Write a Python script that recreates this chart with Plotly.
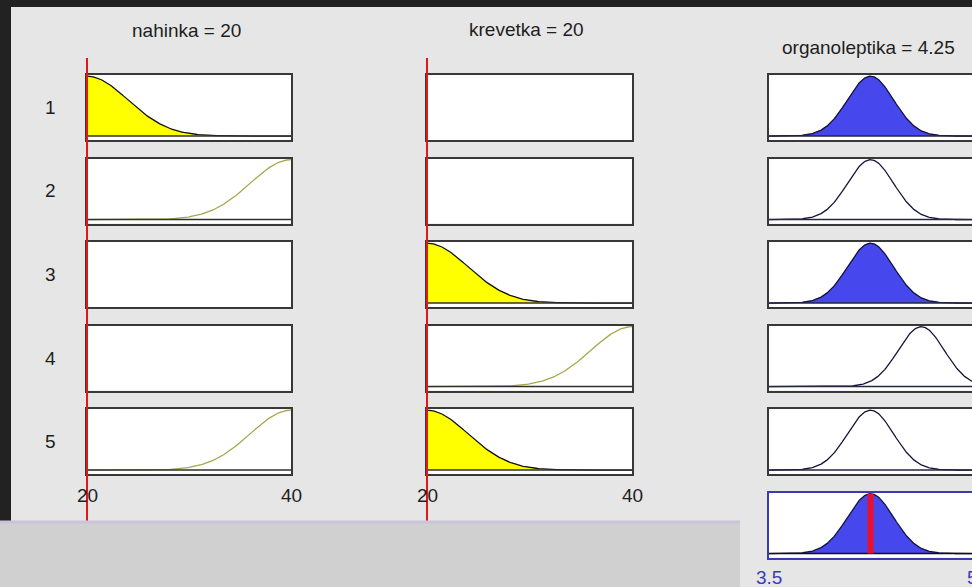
import numpy as np
import plotly.graph_objects as go

W, H = 972, 587

# ---- fuzzy system shown in the rule viewer ----
input_names = ["nahinka", "krevetka"]
input_values = [20, 20]
input_range = [20, 40]
input_mf_centers = [20, 40]      # gaussmf centres of MF1 / MF2 (both inputs)
input_mf_sigma = 4.0
input_ticks = [20, 40]

output_name = "organoleptika"
output_value = 4.25
output_range = [3.5, 5.0]
output_mf_centers = [4.25, 4.625]
output_mf_sigma = 0.17
output_ticks = [3.5, 5]

rule_labels = ["1", "2", "3", "4", "5"]
rule_nahinka = [1, 2, 0, 0, 2]   # 0 = input not used by the rule
rule_krevetka = [0, 0, 1, 2, 1]
rule_output = [1, 1, 1, 2, 1]

# ---- layout geometry (pixels) ----
col_left = [87, 427, 769]
col_right = [291, 632, 973]
row_top = [75, 158.5, 242, 325.5, 409, 492.5]
box_h = 65
y_lo, y_hi = -0.066, 1.02

FONT = "Liberation Sans, Arial, sans-serif"
TXT = "#1e1e1e"
BOX = "#383838"
YELLOW = "#ffff00"
OLIVE = "#a6a64c"
BLUE = "#4747ee"
NAVY = "#14143a"
RED = "#e01818"


def px(x):
    return x / W


def py(y):
    return 1 - y / H


def gauss(x, c, s):
    return np.exp(-((x - c) ** 2) / (2 * s * s))


fig = go.Figure()
layout_axes = {}
shapes = []
n_axes = 0


def axis_ids(k):
    return ("x" if k == 1 else f"x{k}"), ("y" if k == 1 else f"y{k}")


def add_axes(col, row, line_color=BOX, right_edge=True):
    global n_axes
    n_axes += 1
    k = n_axes
    xa, ya = axis_ids(k)
    xr = output_range if col == 2 else input_range
    common = dict(showgrid=False, zeroline=False, showticklabels=False,
                  ticks="", showline=True, linecolor=line_color, linewidth=2,
                  fixedrange=True)
    layout_axes["xaxis" if k == 1 else f"xaxis{k}"] = dict(
        domain=[px(col_left[col]), min(px(col_right[col]), 1.0)],
        range=xr, anchor=ya, mirror=True, **common)
    layout_axes["yaxis" if k == 1 else f"yaxis{k}"] = dict(
        domain=[py(row_top[row] + box_h), py(row_top[row])],
        range=[y_lo, y_hi], anchor=xa, mirror=right_edge, **common)
    # white face of the rule box
    shapes.append(dict(type="rect", xref=f"{xa} domain", yref=f"{ya} domain",
                       x0=0, x1=1, y0=0, y1=1, fillcolor="#ffffff",
                       line_width=0, layer="below"))
    # empty trace so that every rule box is drawn, even when unused
    fig.add_trace(go.Scatter(x=[], y=[], xaxis=xa, yaxis=ya, mode="lines"))
    return xa, ya


xs_in = np.linspace(input_range[0], input_range[1], 201)
xs_out = np.linspace(output_range[0], output_range[1], 301)

# ---- input columns ----
input_rules = [rule_nahinka, rule_krevetka]
firing = [1.0] * len(rule_labels)
input_axes = []
for j in range(2):
    ids = []
    for i in range(len(rule_labels)):
        xa, ya = add_axes(j, i)
        ids.append(xa)
        mf = input_rules[j][i]
        if mf:
            c = input_mf_centers[mf - 1]
            y = gauss(xs_in, c, input_mf_sigma)
            deg = float(gauss(input_values[j], c, input_mf_sigma))
            firing[i] = min(firing[i], deg)
            if deg > 1e-3:
                fig.add_trace(go.Scatter(x=xs_in, y=y, xaxis=xa, yaxis=ya,
                                         mode="lines", fill="tozeroy",
                                         fillcolor=YELLOW,
                                         line=dict(color="#111111", width=1.3)))
            else:
                fig.add_trace(go.Scatter(x=xs_in, y=y, xaxis=xa, yaxis=ya,
                                         mode="lines",
                                         line=dict(color=OLIVE, width=1.3)))
            fig.add_trace(go.Scatter(x=input_range, y=[0, 0], xaxis=xa,
                                     yaxis=ya, mode="lines",
                                     line=dict(color="#303030", width=1.6)))
    input_axes.append(ids)

# ---- output column ----
aggregate = np.zeros_like(xs_out)
for i in range(len(rule_labels)):
    xa, ya = add_axes(2, i, right_edge=False)
    y = gauss(xs_out, output_mf_centers[rule_output[i] - 1], output_mf_sigma)
    w = firing[i]
    clipped = np.minimum(y, w)
    aggregate = np.maximum(aggregate, clipped)
    if w > 1e-3:
        fig.add_trace(go.Scatter(x=xs_out, y=clipped, xaxis=xa, yaxis=ya,
                                 mode="lines", fill="tozeroy", fillcolor=BLUE,
                                 line=dict(color=BLUE, width=0.5)))
    fig.add_trace(go.Scatter(x=xs_out, y=y, xaxis=xa, yaxis=ya, mode="lines",
                             line=dict(color=NAVY, width=1.3)))
    fig.add_trace(go.Scatter(x=output_range, y=[0, 0], xaxis=xa, yaxis=ya,
                             mode="lines", line=dict(color="#262640", width=1.6)))

xa_agg, ya_agg = add_axes(2, 5, line_color="#3b3bb0", right_edge=False)
fig.add_trace(go.Scatter(x=xs_out, y=aggregate, xaxis=xa_agg, yaxis=ya_agg,
                         mode="lines", fill="tozeroy", fillcolor=BLUE,
                         line=dict(color=NAVY, width=1.3)))
fig.add_trace(go.Scatter(x=output_range, y=[0, 0], xaxis=xa_agg, yaxis=ya_agg,
                         mode="lines", line=dict(color="#111111", width=1.6)))
fig.add_trace(go.Scatter(x=[output_value, output_value], y=[0, 1],
                         xaxis=xa_agg, yaxis=ya_agg, mode="lines",
                         line=dict(color="#e8112d", width=6)))

# ---- input value markers: hidden full-height axes sharing each column's
#      scale, widened a little on the left so the marker is not clipped ----
pad_px = 8
for j in range(2):
    n_axes += 1
    k = n_axes
    xa, ya = axis_ids(k)
    span = input_range[1] - input_range[0]
    width_px = col_right[j] - col_left[j]
    pad_units = pad_px * span / width_px
    layout_axes[f"xaxis{k}"] = dict(
        domain=[px(col_left[j] - pad_px), px(col_right[j])],
        range=[input_range[0] - pad_units, input_range[1]],
        anchor=ya, visible=False, fixedrange=True)
    layout_axes[f"yaxis{k}"] = dict(
        domain=[py(521), py(58)], range=[0, 1], anchor=xa,
        visible=False, fixedrange=True)
    fig.add_trace(go.Scatter(x=[input_values[j], input_values[j]], y=[0, 1],
                             xaxis=xa, yaxis=ya, mode="lines",
                             line=dict(color=RED, width=2)))

# ---- shapes: frame and lower panel ----
shapes += [
    dict(type="rect", xref="paper", yref="paper", x0=0, x1=1,
         y0=py(7), y1=1, fillcolor="#222222", line_width=0, layer="below"),
    dict(type="rect", xref="paper", yref="paper", x0=0, x1=px(11),
         y0=py(522), y1=1, fillcolor="#222222", line_width=0, layer="below"),
    dict(type="rect", xref="paper", yref="paper", x0=0, x1=px(740),
         y0=0, y1=py(522), fillcolor="#d0d0d0", line_width=0),
    dict(type="line", xref="paper", yref="paper", x0=0, x1=px(740),
         y0=py(522), y1=py(522), line=dict(color="#cbc2dc", width=3)),
]

# ---- text ----
ann = []
title_pos = [(186, 30), (526, 29), (868, 48)]
titles = [f"{input_names[0]} = {input_values[0]}",
          f"{input_names[1]} = {input_values[1]}",
          f"{output_name} = {output_value:g}"]
for (tx, ty), t in zip(title_pos, titles):
    ann.append(dict(text=t, x=px(tx), y=py(ty), xref="paper", yref="paper",
                    showarrow=False, xanchor="center", yanchor="middle",
                    font=dict(family=FONT, size=19, color=TXT)))
for i, lab in enumerate(rule_labels):
    ann.append(dict(text=lab, x=px(50), y=py(row_top[i] + box_h / 2),
                    xref="paper", yref="paper", showarrow=False,
                    xanchor="center", yanchor="middle",
                    font=dict(family=FONT, size=19, color=TXT)))
for j in range(2):
    for tv in input_ticks:
        ann.append(dict(text=f"{tv:g}", x=tv, y=py(495),
                        xref=input_axes[j][-1], yref="paper", showarrow=False,
                        xanchor="center", yanchor="middle",
                        font=dict(family=FONT, size=19, color=TXT)))
for tv in output_ticks:
    ann.append(dict(text=f"{tv:g}", x=tv, y=py(577), xref=xa_agg,
                    yref="paper", showarrow=False, xanchor="center",
                    yanchor="middle",
                    font=dict(family=FONT, size=19, color="#3a3ab8")))

fig.update_layout(
    width=W, height=H, margin=dict(l=0, r=0, t=0, b=0),
    paper_bgcolor="#e6e6e6", plot_bgcolor="rgba(0,0,0,0)",
    showlegend=False, hovermode=False,
    shapes=shapes, annotations=ann, **layout_axes)

fig.write_html("out.html", config={"displayModeBar": False})
